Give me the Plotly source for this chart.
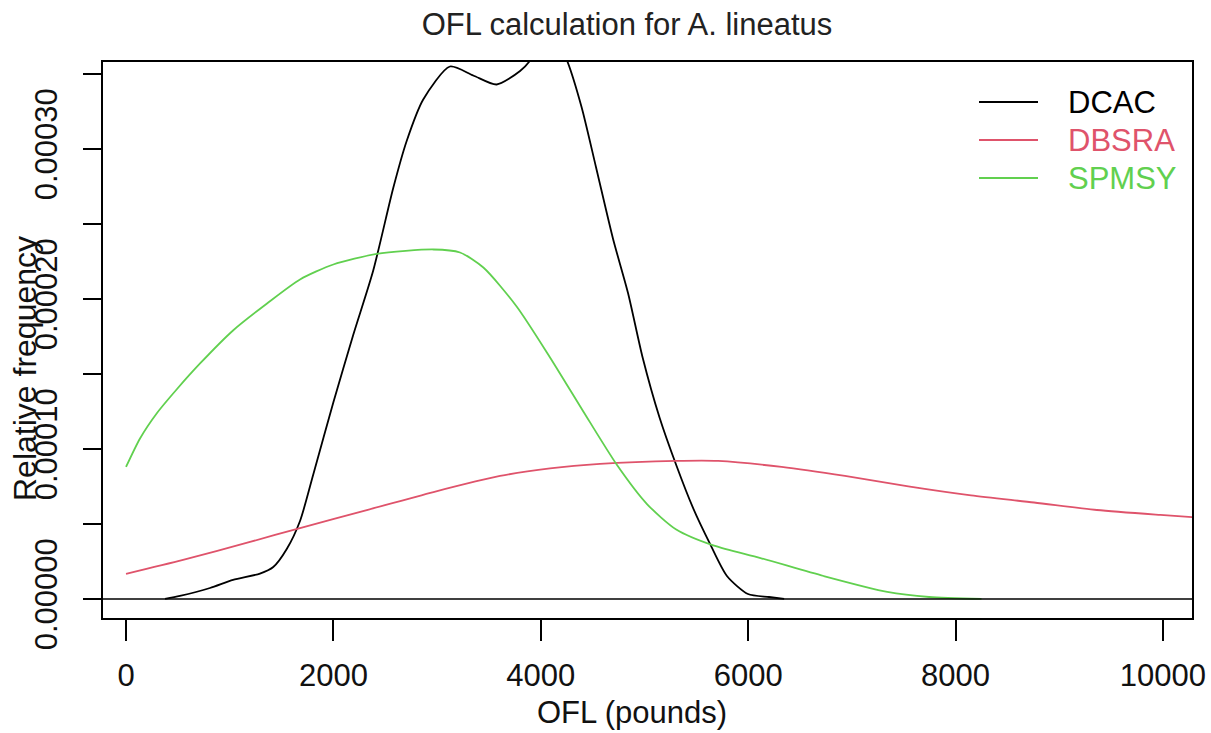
import plotly.graph_objects as go

# ---- data ----
dcac_x = [376, 520, 810, 1032, 1292, 1420, 1550, 1678, 1807, 1999, 2191, 2384, 2577, 2705,
          2866, 3124, 3349, 3574, 3800, 3896, 4070, 4253, 4393, 4532, 4697, 4841, 4982,
          5145, 5306, 5468, 5632, 5795, 5998, 6201, 6347]
dcac_y = [0.0, 2.0e-06, 7.3e-06, 1.27e-05, 1.69e-05, 2.13e-05, 3.33e-05, 5.2e-05, 8.33e-05,
          1.31e-04, 1.76e-04, 2.19e-04, 2.74e-04, 3.05e-04, 3.33e-04, 3.55e-04, 3.49e-04,
          3.43e-04, 3.52e-04, 3.59e-04, 3.85e-04, 3.59e-04, 3.28e-04, 2.88e-04, 2.40e-04,
          2.04e-04, 1.61e-04, 1.21e-04, 8.93e-05, 6.07e-05, 3.67e-05, 1.53e-05, 3.3e-06,
          1.3e-06, 0.0]

dbsra_x = [0, 550, 1196, 1678, 2322, 2965, 3607, 4089, 4571, 5306, 5710, 6322, 6933, 7544,
           8149, 8757, 9363, 9975, 10400]
dbsra_y = [1.67e-05, 2.6e-05, 3.8e-05, 4.73e-05, 5.93e-05, 7.13e-05, 8.2e-05, 8.7e-05, 9.0e-05,
           9.2e-05, 9.2e-05, 8.8e-05, 8.2e-05, 7.5e-05, 6.9e-05, 6.43e-05, 5.93e-05, 5.6e-05,
           5.4e-05]

spmsy_x = [0, 135, 299, 492, 714, 1032, 1360, 1678, 1999, 2418, 2965, 3221, 3446, 3767, 4089,
           4410, 4735, 5024, 5306, 5671, 6119, 6728, 7341, 7744, 8250]
spmsy_y = [8.8e-05, 1.07e-04, 1.24e-04, 1.40e-04, 1.57e-04, 1.79e-04, 1.97e-04, 2.13e-04,
           2.23e-04, 2.30e-04, 2.33e-04, 2.31e-04, 2.21e-04, 1.95e-04, 1.61e-04, 1.25e-04,
           8.93e-05, 6.33e-05, 4.63e-05, 3.55e-05, 2.73e-05, 1.53e-05, 4.7e-06, 1.3e-06, 0.0]

series_names = ["DCAC", "DBSRA", "SPMSY"]
series_colors = ["#000000", "#DF536B", "#61D04F"]

x_ticks = [0, 2000, 4000, 6000, 8000, 10000]
y_ticks = [0.0, 0.00005, 0.0001, 0.00015, 0.0002, 0.00025, 0.0003, 0.00035]
y_ticktext = ["0.00000", "", "0.00010", "", "0.00020", "", "0.00030", ""]

title_text = "OFL calculation for A. lineatus"
x_title = "OFL (pounds)"
y_title = "Relative frequency"

# ---- figure ----
W, H = 1211, 733
L, R, T, B = 103, 1192, 62, 618
FONT = "Liberation Sans, Arial, sans-serif"


def px_x(p):
    return (p - L) / (R - L)


def px_y(p):
    return (B - p) / (B - T)


fig = go.Figure()
for xs, ys, name, col in zip([dcac_x, dbsra_x, spmsy_x], [dcac_y, dbsra_y, spmsy_y],
                             series_names, series_colors):
    fig.add_trace(go.Scatter(x=xs, y=ys, mode="lines", name=name,
                             line=dict(color=col, width=1.8, shape="spline", smoothing=0.7),
                             showlegend=False))

# zero reference line
fig.add_shape(type="line", xref="paper", yref="y", x0=0, x1=1, y0=0, y1=0,
              line=dict(color="#000000", width=1.5))

# legend (manual, R style)
leg_y = [102, 140, 178]
for yy, name, col in zip(leg_y, series_names, series_colors):
    fig.add_shape(type="line", xref="paper", yref="paper",
                  x0=px_x(979), x1=px_x(1038), y0=px_y(yy), y1=px_y(yy),
                  line=dict(color=col, width=1.8))
    fig.add_annotation(xref="paper", yref="paper", x=px_x(1066), y=px_y(yy),
                       xanchor="left", yanchor="middle", showarrow=False,
                       text=name, font=dict(family=FONT, size=31, color=col))

# axis titles
fig.add_annotation(xref="paper", yref="paper", x=px_x(632), y=px_y(712),
                   xanchor="center", yanchor="middle", showarrow=False,
                   text=x_title, font=dict(family=FONT, size=31, color="#111111"))
fig.add_annotation(xref="paper", yref="paper", x=px_x(25), y=px_y(369),
                   xanchor="center", yanchor="middle", showarrow=False, textangle=-90,
                   text=y_title, font=dict(family=FONT, size=32, color="#111111"))

fig.update_layout(
    width=W, height=H,
    margin=dict(l=L, r=W - R, t=T, b=H - B, pad=0, autoexpand=False),
    paper_bgcolor="white", plot_bgcolor="white",
    font=dict(family=FONT, size=31, color="#111111"),
    title=dict(text=title_text, x=627 / W, xanchor="center", y=1 - 24 / H, yanchor="middle",
               font=dict(family=FONT, size=31, color="#222222")),
    showlegend=False,
)
fig.update_xaxes(range=[-222, 10280], tickvals=x_ticks, ticktext=[str(v) for v in x_ticks],
                 ticks="outside", ticklen=21, tickwidth=1.5, tickcolor="#000000",
                 showline=True, linecolor="#000000", linewidth=1.5, mirror=True,
                 showgrid=False, zeroline=False, ticklabelstandoff=8, automargin=False,
                 tickfont=dict(family=FONT, size=31, color="#111111"))
fig.update_yaxes(range=[-0.0000127, 0.000358], tickvals=y_ticks, ticktext=y_ticktext,
                 ticks="outside", ticklen=18, tickwidth=1.5, tickcolor="#000000",
                 showline=True, linecolor="#000000", linewidth=1.5, mirror=True,
                 showgrid=False, zeroline=False, tickangle=-90, ticklabelstandoff=14,
                 automargin=False,
                 tickfont=dict(family=FONT, size=31, color="#111111"))

fig.write_html("out.html", config={"displayModeBar": False},
               post_script="document.body.style.margin='0';document.body.style.overflow='hidden';")
